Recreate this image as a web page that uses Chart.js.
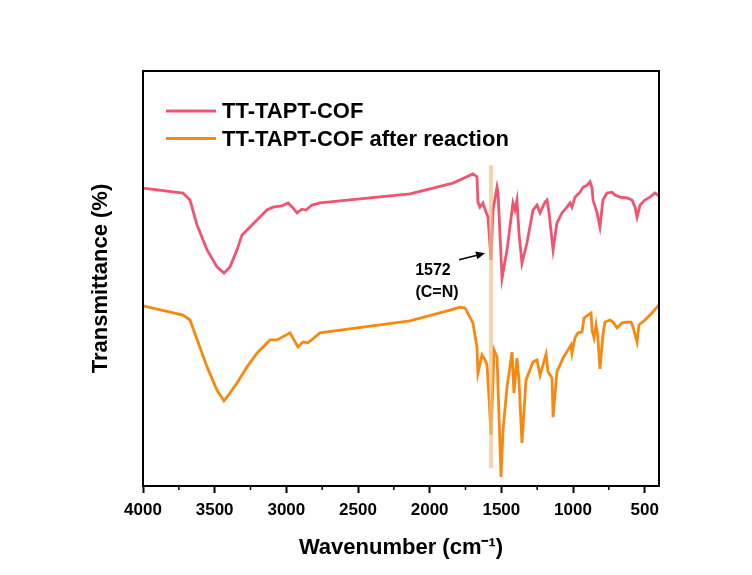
<!DOCTYPE html>
<html>
<head>
<meta charset="utf-8">
<script src="https://cdn.jsdelivr.net/npm/chart.js@4.4.1/dist/chart.umd.min.js"></script>
<style>
  html, body { margin: 0; padding: 0; background: #ffffff; }
  canvas { display: block; }
</style>
</head>
<body>
<canvas id="c" width="752" height="575"></canvas>
<script>
// ---- data (wavenumber in cm^-1, transmittance in arbitrary %) ----
const SERIES_LABELS = ['TT-TAPT-COF', 'TT-TAPT-COF after reaction'];

const PINK_WN = [4000, 3721, 3672, 3623, 3553, 3484, 3435, 3393, 3344, 3309, 3274, 3205, 3135, 3093, 3030, 2988, 2953, 2926, 2891, 2863, 2821, 2765, 2137, 1977, 1837, 1698, 1670, 1663, 1649, 1628, 1607, 1593, 1572, 1558, 1530, 1523, 1495, 1460, 1419, 1405, 1391, 1377, 1356, 1321, 1279, 1251, 1230, 1195, 1181, 1167, 1139, 1112, 1077, 1042, 1021, 1007, 986, 951, 930, 902, 881, 867, 860, 832, 812, 791, 763, 728, 707, 672, 623, 588, 567, 553, 532, 498, 463, 428, 407, 400];
const PINK_T  = [71.8, 70.6, 68.9, 62.9, 56.9, 52.8, 51.3, 52.8, 56.9, 60.5, 61.7, 64.1, 66.5, 67.2, 67.5, 68.2, 67.0, 65.8, 66.7, 66.5, 67.7, 68.2, 70.4, 71.8, 73.0, 75.2, 74.5, 68.4, 67.2, 68.2, 66.0, 64.8, 54.5, 66.5, 72.0, 70.6, 50.1, 56.9, 68.2, 66.5, 68.9, 61.0, 53.7, 58.6, 66.5, 67.7, 65.8, 68.4, 68.9, 65.8, 56.9, 63.4, 65.8, 67.2, 68.2, 67.2, 69.6, 70.8, 72.0, 72.5, 73.3, 71.8, 68.9, 65.8, 62.4, 68.9, 70.6, 70.8, 70.1, 69.6, 69.4, 68.9, 67.2, 64.8, 67.7, 68.9, 69.6, 70.6, 70.1, 70.1];

const ORANGE_WN = [4000, 3721, 3672, 3553, 3484, 3435, 3393, 3344, 3274, 3205, 3114, 3065, 2974, 2919, 2884, 2849, 2765, 2137, 1858, 1788, 1753, 1698, 1670, 1663, 1635, 1614, 1600, 1586, 1572, 1558, 1551, 1530, 1502, 1488, 1460, 1425, 1412, 1391, 1377, 1356, 1328, 1279, 1251, 1230, 1209, 1188, 1174, 1146, 1139, 1112, 1070, 1035, 1014, 1007, 986, 965, 937, 923, 895, 874, 867, 853, 839, 826, 812, 791, 777, 742, 721, 693, 658, 623, 595, 581, 553, 540, 498, 449, 414, 400];
const ORANGE_T  = [43.4, 41.2, 40.0, 28.7, 23.1, 20.5, 22.4, 24.8, 28.7, 32.0, 35.2, 35.2, 36.9, 33.5, 34.7, 34.5, 36.9, 39.8, 42.4, 43.1, 42.9, 39.3, 33.5, 27.2, 31.6, 30.4, 29.2, 21.4, 12.3, 25.5, 32.8, 31.1, 2.2, 13.5, 23.9, 32.3, 22.4, 30.8, 25.5, 10.4, 25.5, 29.9, 30.4, 26.7, 29.2, 31.8, 27.5, 26.0, 16.6, 27.5, 30.8, 32.8, 34.0, 32.0, 35.7, 36.9, 37.1, 40.5, 41.2, 41.7, 37.6, 35.7, 38.8, 35.7, 28.2, 36.4, 39.5, 40.0, 39.5, 38.1, 39.3, 39.5, 39.5, 38.3, 34.7, 38.8, 40.0, 41.7, 43.1, 43.6];

// highlighted band (C=N at 1572 cm^-1)
const BAND_WN = [1572, 1572];
const BAND_T  = [4.3, 77.3];

// annotation arrow and text
const ARROW_WN = [1795, 1614];
const ARROW_T  = [54.5, 56.1];
const NOTE_TEXT = ['1572', '(C=N)'];
const NOTE_WN = [1977, 1949];
const NOTE_T  = [52.0, 46.5];

const X_TICKS = [4000, 3500, 3000, 2500, 2000, 1500, 1000, 500];
const X_TICK_LABELS = ['4000', '3500', '3000', '2500', '2000', '1500', '1000', '500'];
const X_MINOR = [3750, 3250, 2750, 2250, 1750, 1250, 750];

const PINK = 'rgb(240,84,112)';
const ORANGE = 'rgb(247,137,16)';
const FONT = "'Liberation Sans', Arial, Helvetica, sans-serif";

const toXY = (xs, ys) => xs.map((x, i) => ({ x: x, y: ys[i] }));

const framePlugin = {
  id: 'frame',
  afterDatasetsDraw(chart) {
    const { ctx, chartArea: a, scales } = chart;
    const xs = scales.x, ys = scales.y;
    ctx.save();
    // frame
    ctx.strokeStyle = '#000';
    ctx.lineWidth = 2;
    ctx.strokeRect(a.left, a.top, a.right - a.left, a.bottom - a.top);
    // minor ticks
    ctx.lineWidth = 1.5;
    X_MINOR.forEach(v => {
      const px = xs.getPixelForValue(v);
      ctx.beginPath();
      ctx.moveTo(px, a.bottom);
      ctx.lineTo(px, a.bottom + 4);
      ctx.stroke();
    });
    // arrow
    const x1 = xs.getPixelForValue(ARROW_WN[0]), y1 = ys.getPixelForValue(ARROW_T[0]);
    const x2 = xs.getPixelForValue(ARROW_WN[1]), y2 = ys.getPixelForValue(ARROW_T[1]);
    const ang = Math.atan2(y2 - y1, x2 - x1);
    ctx.strokeStyle = '#000';
    ctx.fillStyle = '#000';
    ctx.lineWidth = 1.5;
    ctx.beginPath();
    ctx.moveTo(x1, y1);
    ctx.lineTo(x2 - 6 * Math.cos(ang), y2 - 6 * Math.sin(ang));
    ctx.stroke();
    ctx.beginPath();
    ctx.moveTo(x2, y2);
    ctx.lineTo(x2 - 9 * Math.cos(ang) + 4 * Math.sin(ang), y2 - 9 * Math.sin(ang) - 4 * Math.cos(ang));
    ctx.lineTo(x2 - 9 * Math.cos(ang) - 4 * Math.sin(ang), y2 - 9 * Math.sin(ang) + 4 * Math.cos(ang));
    ctx.closePath();
    ctx.fill();
    // note text
    ctx.font = 'bold 16px ' + FONT;
    ctx.textAlign = 'center';
    ctx.textBaseline = 'middle';
    NOTE_TEXT.forEach((t, i) => {
      ctx.fillText(t, xs.getPixelForValue(NOTE_WN[i]), ys.getPixelForValue(NOTE_T[i]));
    });
    // legend
    const lx0 = 166, lx1 = 216, ly = [111, 138.5];
    const colors = [PINK, ORANGE];
    ctx.font = 'bold 22px ' + FONT;
    ctx.textAlign = 'left';
    SERIES_LABELS.forEach((lab, i) => {
      ctx.strokeStyle = colors[i];
      ctx.lineWidth = 3;
      ctx.beginPath();
      ctx.moveTo(lx0, ly[i]);
      ctx.lineTo(lx1, ly[i]);
      ctx.stroke();
      ctx.fillStyle = '#000';
      ctx.fillText(lab, 222, ly[i] + 1);
    });
    ctx.restore();
  }
};

new Chart(document.getElementById('c'), {
  type: 'line',
  data: {
    datasets: [
      {
        label: 'band',
        data: toXY(BAND_WN, BAND_T),
        borderColor: 'rgba(240,190,130,0.65)',
        borderWidth: 4,
        borderCapStyle: 'butt',
        pointRadius: 0
      },
      {
        label: SERIES_LABELS[0],
        data: toXY(PINK_WN, PINK_T),
        borderColor: PINK,
        borderWidth: 2.8,
        pointRadius: 0,
        tension: 0
      },
      {
        label: SERIES_LABELS[1],
        data: toXY(ORANGE_WN, ORANGE_T),
        borderColor: ORANGE,
        borderWidth: 2.8,
        pointRadius: 0,
        tension: 0
      }
    ]
  },
  options: {
    responsive: false,
    animation: false,
    events: [],
    layout: { padding: { top: 71, right: 93, left: 88, bottom: 10 } },
    plugins: { legend: { display: false }, tooltip: { enabled: false } },
    scales: {
      x: {
        type: 'linear',
        reverse: true,
        min: 400,
        max: 4000,
        afterBuildTicks: (s) => { s.ticks = X_TICKS.map(v => ({ value: v })); },
        afterFit: (s) => { s.height = 79; },
        border: { display: false },
        grid: { display: true, drawOnChartArea: false, drawTicks: true, tickLength: 7, tickWidth: 2, tickColor: '#000' },
        ticks: {
          color: '#000',
          font: { family: FONT, size: 17, weight: 'bold' },
          padding: 7,
          maxRotation: 0,
          autoSkip: false,
          callback: (v) => { const i = X_TICKS.indexOf(v); return i >= 0 ? X_TICK_LABELS[i] : ''; }
        },
        title: { display: true, text: 'Wavenumber (cm⁻¹)', color: '#000', font: { family: FONT, size: 22, weight: 'bold' }, padding: { top: 0, bottom: 4 } }
      },
      y: {
        type: 'linear',
        min: 0,
        max: 100,
        afterFit: (s) => { s.width = 55; },
        border: { display: false },
        grid: { display: false },
        ticks: { display: false },
        title: { display: true, text: 'Transmittance (%)', color: '#000', font: { family: FONT, size: 22, weight: 'bold' }, padding: 0 }
      }
    }
  },
  plugins: [framePlugin, {
    id: 'bg',
    beforeDraw(chart) {
      const c = chart.ctx;
      c.save(); c.fillStyle = '#fff'; c.fillRect(0, 0, chart.width, chart.height); c.restore();
    }
  }]
});
</script>
</body>
</html>
